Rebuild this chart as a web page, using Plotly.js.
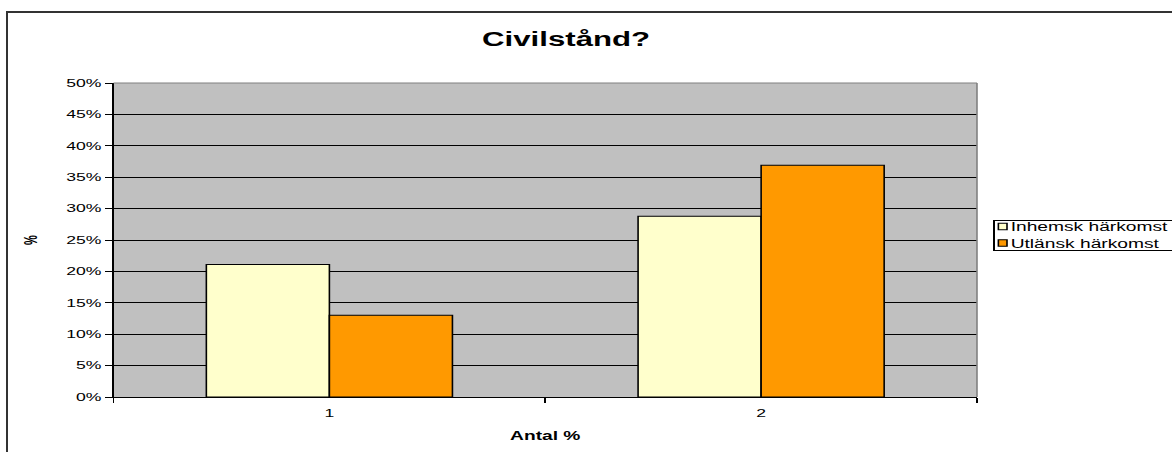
<!DOCTYPE html>
<html>
<head>
<meta charset="utf-8">
<script src="https://cdn.plot.ly/plotly-3.0.1.min.js"></script>
<style>
  html, body { margin: 0; padding: 0; background: #fff; }
  #wrap { position: relative; width: 1172px; height: 452px; overflow: hidden; }
  #chart { position: absolute; left: 0; top: 0; width: 733px; height: 452px;
           transform: scaleX(1.599); transform-origin: 0 0; }
  #frame { position: absolute; left: 6px; top: 11px; width: 1200px; height: 500px;
           border-left: 2px solid #333; border-top: 2px solid #333; pointer-events: none; }
</style>
</head>
<body>
<div id="wrap">
  <div id="chart"></div>
  <div id="frame"></div>
</div>
<script>
const categories = ['1', '2'];
const inhemsk = [21.1, 28.8];
const utlansk = [13.0, 36.9];
const yTickVals = [0, 5, 10, 15, 20, 25, 30, 35, 40, 45, 50];
const yTickText = ['0%', '5%', '10%', '15%', '20%', '25%', '30%', '35%', '40%', '45%', '50%'];

const font = 'Liberation Sans, Arial, sans-serif';

const data = [
  {
    type: 'bar', name: 'Inhemsk härkomst', x: categories, y: inhemsk,
    marker: { color: '#FFFFCC', line: { color: '#000', width: 1 } }
  },
  {
    type: 'bar', name: 'Utlänsk härkomst', x: categories, y: utlansk,
    marker: { color: '#FF9900', line: { color: '#000', width: 1 } }
  }
];

const layout = {
  width: 733, height: 452,
  margin: { l: 70.7, r: 122, t: 83, b: 55 },
  paper_bgcolor: 'rgba(0,0,0,0)',
  plot_bgcolor: '#C0C0C0',
  font: { family: font, size: 11, color: '#000' },
  barmode: 'group',
  bargap: 0.43,
  bargroupgap: 0,
  title: {
    text: '<b>Civilstånd?</b>',
    font: { family: font, size: 19.5, color: '#000' },
    xref: 'container', x: 0.483, xanchor: 'center',
    yref: 'container', y: 0.914, yanchor: 'middle'
  },
  xaxis: {
    type: 'category',
    tickson: 'boundaries',
    ticks: 'outside', ticklen: 5, tickcolor: '#000', tickwidth: 1,
    ticklabelstandoff: 6,
    showline: true, linecolor: '#000', linewidth: 1,
    showgrid: false, zeroline: false,
    tickfont: { family: font, size: 11, color: '#000' },
    title: { text: '<b>Antal %</b>', font: { family: font, size: 12, color: '#000' }, standoff: 13 }
  },
  yaxis: {
    range: [0, 50],
    tickvals: yTickVals, ticktext: yTickText,
    ticks: 'outside', ticklen: 4.4, tickcolor: '#000', tickwidth: 1,
    showline: true, linecolor: '#000', linewidth: 1,
    showgrid: true, gridcolor: '#000', gridwidth: 1,
    zeroline: false,
    tickfont: { family: font, size: 11, color: '#000' },
    title: { text: '<b>%</b>', font: { family: font, size: 11, color: '#000' }, standoff: 15 }
  },
  legend: {
    xref: 'container', x: 0.8473, xanchor: 'left',
    yref: 'container', y: 0.48, yanchor: 'middle',
    bgcolor: '#fff', bordercolor: '#000', borderwidth: 1,
    font: { family: font, size: 12, color: '#000' },
    tracegroupgap: 0,
    itemwidth: 30
  },
  shapes: [
    { type: 'line', xref: 'paper', yref: 'paper', x0: 0, x1: 1, y0: 1, y1: 1,
      line: { color: '#808080', width: 1 }, layer: 'above' },
    { type: 'line', xref: 'paper', yref: 'paper', x0: 1, x1: 1, y0: 0, y1: 1,
      line: { color: '#808080', width: 1 }, layer: 'above' }
  ],
  showlegend: true
};

Plotly.newPlot('chart', data, layout, { displayModeBar: false, staticPlot: true }).then(function (gd) {
  // Compact the legend (small square symbols, text close to them, tight rows), as in the original.
  const leg = gd.querySelector('g.legend');
  if (!leg) return;
  leg.querySelectorAll('text.legendtext').forEach(function (t) { t.setAttribute('x', 10); });
  leg.querySelectorAll('g.legendpoints path').forEach(function (p) {
    p.setAttribute('transform', 'translate(5,0) scale(0.45,0.55)');
    p.setAttribute('vector-effect', 'non-scaling-stroke');
  });
  const rowY = [6.5, 23];
  leg.querySelectorAll('g.traces').forEach(function (g, i) {
    const m = /translate\(\s*([-\d.]+)/.exec(g.getAttribute('transform') || '');
    const tx = m ? parseFloat(m[1]) : 0;
    g.setAttribute('transform', 'translate(' + tx + ',' + rowY[i] + ')');
  });
  const sb = leg.querySelector('g.scrollbox');
  if (sb) sb.setAttribute('transform', 'translate(0,0)');
  const bg = leg.querySelector('rect.bg');
  if (bg) { bg.setAttribute('width', 115); bg.setAttribute('height', 30); }
  const lm = /translate\(\s*([-\d.]+)/.exec(leg.getAttribute('transform') || '');
  const lx = lm ? parseFloat(lm[1]) : 621;
  leg.setAttribute('transform', 'translate(' + lx + ',220)');
});
</script>
</body>
</html>
